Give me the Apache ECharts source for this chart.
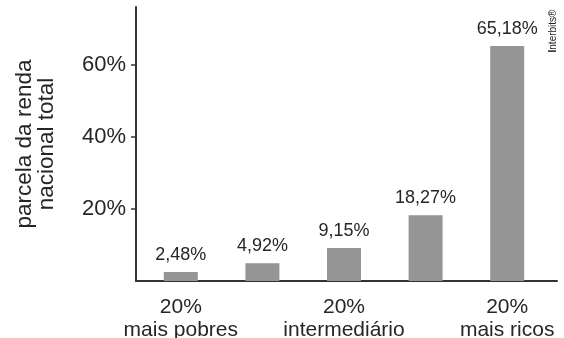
<!DOCTYPE html>
<html>
<head>
<meta charset="utf-8">
<script src="https://cdn.jsdelivr.net/npm/echarts@6/dist/echarts.min.js"></script>
<style>
  html, body { margin: 0; padding: 0; background: #fff; }
  #chart { width: 564px; height: 338px; }
</style>
</head>
<body>
<div id="chart"></div>
<script>
// Quintiles of the population, poorest to richest (only 1st, 3rd and 5th are labelled)
const categories = ['20%\nmais pobres', '', '20%\nintermediário', '', '20%\nmais ricos'];
// Share of national income held by each quintile (%)
const shares = [2.48, 4.92, 9.15, 18.27, 65.18];
// Value axis ticks (%)
const yTicks = [20, 40, 60];

const FONT = '"Liberation Sans", Arial, Helvetica, sans-serif';
const INK = '#262626';
const AXIS = '#333333';

const chart = echarts.init(document.getElementById('chart'), null, { renderer: 'canvas' });

chart.setOption({
  animation: false,
  backgroundColor: '#ffffff',
  textStyle: { fontFamily: FONT },
  grid: [
    { left: 140, right: 16, top: 7, bottom: 57, containLabel: false, outerBoundsMode: 'none' },
    { left: 136, right: 7, top: 7, bottom: 57, containLabel: false, outerBoundsMode: 'none' }
  ],
  xAxis: [
    {
      type: 'category',
      gridIndex: 0,
      data: categories,
      axisLine: { show: false },
      axisTick: { show: false },
      axisLabel: {
        interval: 0,
        color: INK,
        fontSize: 21,
        lineHeight: 23.5,
        margin: 14,
        fontFamily: FONT
      }
    },
    {
      // full-width baseline
      type: 'value',
      gridIndex: 1,
      min: 0,
      max: 1,
      axisLine: { show: true, lineStyle: { color: AXIS, width: 2 } },
      axisTick: { show: false },
      axisLabel: { show: false },
      splitLine: { show: false }
    }
  ],
  yAxis: [
    {
      type: 'value',
      gridIndex: 0,
      min: 0,
      max: 76,
      offset: 4,
      interval: 20,
      name: 'parcela da renda\nnacional total',
      nameLocation: 'middle',
      nameRotate: 90,
      nameGap: 78,
      nameTextStyle: { color: INK, fontSize: 22.5, lineHeight: 22, fontFamily: FONT },
      axisLine: { show: true, lineStyle: { color: AXIS, width: 2 } },
      axisTick: {
        show: true,
        length: 5,
        lineStyle: { color: AXIS, width: 1.5 },
        customValues: yTicks
      },
      axisLabel: {
        color: INK,
        fontSize: 22,
        margin: 10,
        fontFamily: FONT,
        customValues: yTicks,
        formatter: (v) => v + '%'
      },
      splitLine: { show: false }
    },
    {
      type: 'value',
      gridIndex: 1,
      show: false
    }
  ],
  series: [
    {
      type: 'bar',
      xAxisIndex: 0,
      yAxisIndex: 0,
      data: shares,
      barWidth: 34,
      itemStyle: { color: '#959595' },
      label: {
        show: true,
        position: 'top',
        distance: 8,
        color: INK,
        fontSize: 18,
        fontFamily: FONT,
        formatter: (p) => p.value.toFixed(2).replace('.', ',') + '%'
      }
    }
  ],
  graphic: [
    {
      type: 'text',
      x: 553,
      y: 31,
      rotation: Math.PI / 2,
      style: {
        text: '{b|I}nterbits®',
        fill: '#222',
        font: '10px ' + FONT,
        align: 'center',
        verticalAlign: 'middle',
        rich: {
          b: { fontWeight: 'bold', fontSize: 10, fontFamily: FONT, fill: '#111' }
        }
      }
    }
  ]
});
</script>
</body>
</html>
